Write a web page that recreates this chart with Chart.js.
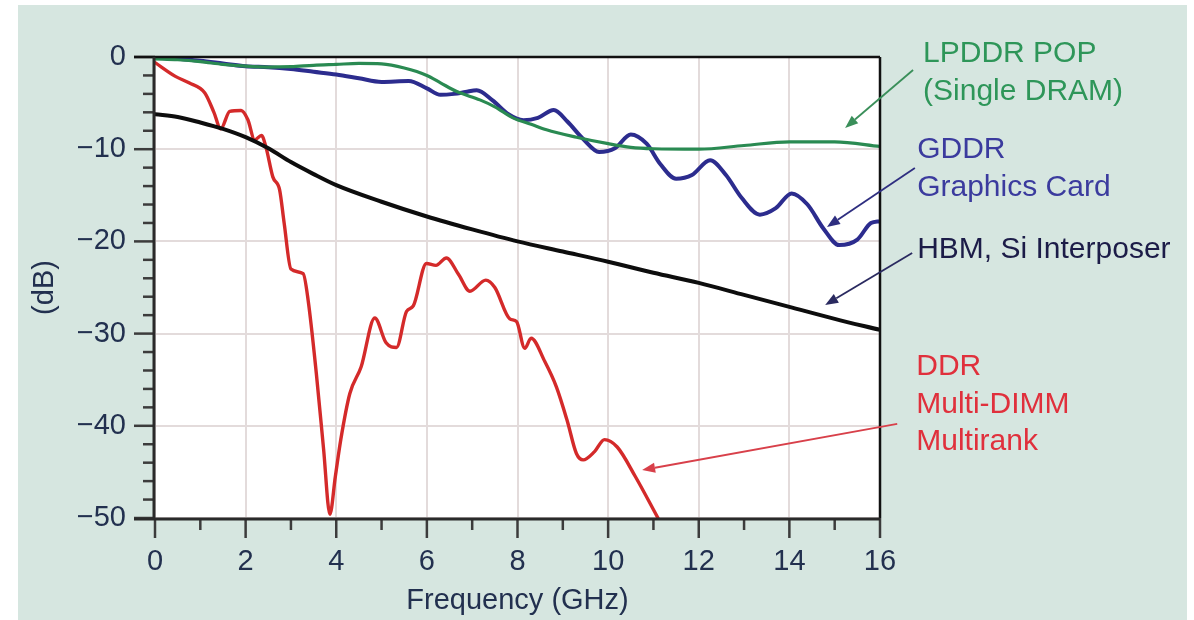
<!DOCTYPE html>
<html>
<head>
<meta charset="utf-8">
<script src="https://cdn.jsdelivr.net/npm/chart.js@4.4.1/dist/chart.umd.min.js"></script>
<style>
html,body{margin:0;padding:0;background:#fff;}
canvas{display:block;}
</style>
</head>
<body>
<canvas id="c" width="1194" height="620"></canvas>
<script>
// ---- data (frequency in GHz, insertion loss in dB) ----
const xTicks = [0, 2, 4, 6, 8, 10, 12, 14, 16];
const yTicks = [0, -10, -20, -30, -40, -50];

const lpddrFreq = [0, 0.5, 1, 1.5, 2, 2.5, 3, 3.5, 4, 4.5, 5, 5.5, 6, 6.3, 6.66, 7.17, 7.5, 7.9, 8.3, 8.64, 9.3, 10, 10.5, 11, 12, 13, 14, 15, 16];
const lpddrDb   = [-0.2, -0.3, -0.5, -0.8, -1.0, -1.1, -1.05, -0.9, -0.8, -0.7, -0.75, -1.2, -2.0, -2.8, -3.75, -4.65, -5.4, -6.6, -7.3, -7.9, -8.7, -9.4, -9.8, -9.95, -10.0, -9.6, -9.2, -9.2, -9.7];

const gddrFreq = [0, 0.5, 1, 1.5, 2, 2.5, 3, 3.5, 4, 4.5, 5, 5.6, 6, 6.3, 6.6, 6.85, 7.1, 7.45, 7.8, 8.13, 8.45, 8.8, 9.1, 9.45, 9.8, 10.15, 10.5, 10.85, 11.15, 11.5, 11.85, 12.25, 12.6, 12.95, 13.35, 13.7, 14.05, 14.4, 14.75, 15.1, 15.5, 15.8, 16];
const gddrDb   = [0, -0.2, -0.4, -0.7, -1.0, -1.1, -1.3, -1.6, -1.9, -2.3, -2.7, -2.6, -3.4, -4.1, -4.0, -3.8, -3.6, -4.7, -6.2, -6.85, -6.6, -5.75, -7.0, -8.9, -10.3, -9.9, -8.4, -9.4, -11.6, -13.2, -12.8, -11.2, -12.8, -15.3, -17.1, -16.4, -14.8, -16.0, -18.6, -20.4, -19.8, -18.0, -17.8];

const hbmFreq = [0, 0.5, 1, 1.5, 2, 2.5, 3, 3.5, 4, 5, 6, 7, 8, 9, 10, 11, 12, 13, 14, 15, 16];
const hbmDb   = [-6.2, -6.5, -7.1, -7.8, -8.7, -9.9, -11.4, -12.7, -13.9, -15.7, -17.3, -18.7, -20.0, -21.1, -22.2, -23.4, -24.5, -25.8, -27.1, -28.4, -29.6];

const ddrFreq = [0, 0.45, 0.75, 1.1, 1.3, 1.45, 1.65, 1.9, 2.05, 2.2, 2.35, 2.45, 2.6, 2.75, 2.85, 3.0, 3.27, 3.38, 3.56, 3.72, 3.86, 3.98, 4.1, 4.3, 4.55, 4.85, 5.1, 5.33, 5.55, 5.7, 5.99, 6.2, 6.43, 6.7, 6.95, 7.3, 7.5, 7.83, 7.98, 8.16, 8.3, 8.6, 8.86, 9.1, 9.3, 9.45, 9.7, 9.92, 10.2, 10.6, 11.1];
const ddrDb   = [-0.6, -2.1, -2.8, -3.9, -6.0, -7.8, -5.9, -5.8, -6.8, -9.0, -8.5, -9.8, -13.0, -14.4, -18.0, -23.0, -23.5, -26.4, -34.3, -42.5, -49.6, -45.5, -41.5, -36.5, -33.6, -28.3, -31.0, -31.5, -27.6, -27.0, -22.4, -22.6, -21.8, -23.6, -25.4, -24.2, -25.0, -28.4, -28.7, -31.6, -30.5, -33.0, -35.8, -39.5, -43.0, -43.7, -42.8, -41.5, -42.3, -45.5, -50];

const seriesNames = ['LPDDR POP', 'GDDR', 'HBM', 'DDR'];
const xTitle = 'Frequency (GHz)';
const yTitle = '(dB)';

// annotation callouts (in data units)
const callouts = [
  {lines: ['LPDDR POP', '(Single DRAM)'], color: '#2e9659', arrow: '#3a8f5a', at: [16.95, 0.33], tail: [16.73, -1.41], tip: [15.23, -7.7]},
  {lines: ['GDDR', 'Graphics Card'], color: '#3b3b9e', arrow: '#2e2e80', at: [16.82, -10.09], tail: [16.77, -12.04], tip: [14.83, -18.44]},
  {lines: ['HBM, Si Interposer'], color: '#1c1c48', arrow: '#2a2a60', at: [16.82, -20.93], tail: [16.71, -21.26], tip: [14.79, -26.9]},
  {lines: ['DDR', 'Multi-DIMM', 'Multirank'], color: '#e0303c', arrow: '#d8404a', at: [16.80, -33.62], tail: [16.38, -39.8], tip: [10.75, -44.8]}
];

const pts = (xs, ys) => xs.map((x, i) => ({x: x, y: ys[i]}));
const FONT = "'Liberation Sans', Arial, Helvetica, sans-serif";
const minus = v => v < 0 ? '\u2212' + Math.abs(v) : String(v);

const panelPlugin = {
  id: 'panel',
  beforeDraw(chart) {
    const {ctx, chartArea: a} = chart;
    ctx.save();
    ctx.fillStyle = '#ffffff';
    ctx.fillRect(0, 0, chart.width, chart.height);
    ctx.fillStyle = '#d6e6e0';
    ctx.fillRect(18, 5, 1169, 615);
    ctx.fillStyle = '#ffffff';
    ctx.fillRect(a.left, a.top, a.right - a.left, a.bottom - a.top);
    ctx.restore();
  }
};

const axesPlugin = {
  id: 'axesDecor',
  afterDatasetsDraw(chart) {
    const {ctx, chartArea: a, scales} = chart;
    const xs = scales.x, ys = scales.y;
    ctx.save();
    ctx.lineCap = 'butt';
    ctx.strokeStyle = '#3c3c3c';
    ctx.lineWidth = 2.5;
    const yt = ys.ticks.map(t => t.value).sort((p, q) => p - q);
    yt.forEach((v, i) => {
      const py = ys.getPixelForValue(v);
      ctx.beginPath(); ctx.moveTo(a.left - 21, py); ctx.lineTo(a.left, py); ctx.stroke();
      if (i < yt.length - 1) {
        const step = (yt[i + 1] - v) / 5;
        for (let k = 1; k < 5; k++) {
          const my = ys.getPixelForValue(v + k * step);
          ctx.beginPath(); ctx.moveTo(a.left - 12, my); ctx.lineTo(a.left, my); ctx.stroke();
        }
      }
    });
    const xt = xs.ticks.map(t => t.value).sort((p, q) => p - q);
    xt.forEach((v, i) => {
      const px = xs.getPixelForValue(v);
      ctx.beginPath(); ctx.moveTo(px, a.bottom); ctx.lineTo(px, a.bottom + 20); ctx.stroke();
      if (i < xt.length - 1) {
        const mx = xs.getPixelForValue((v + xt[i + 1]) / 2);
        ctx.beginPath(); ctx.moveTo(mx, a.bottom); ctx.lineTo(mx, a.bottom + 12); ctx.stroke();
      }
    });
    ctx.strokeStyle = '#111';
    ctx.lineWidth = 2.5;
    ctx.beginPath(); ctx.moveTo(a.left - 21, a.top); ctx.lineTo(a.right, a.top); ctx.stroke();
    ctx.beginPath(); ctx.moveTo(a.right, a.top); ctx.lineTo(a.right, a.bottom); ctx.stroke();
    ctx.strokeStyle = '#2a2a2a';
    ctx.lineWidth = 3;
    ctx.beginPath(); ctx.moveTo(a.left - 1, a.top); ctx.lineTo(a.left - 1, a.bottom + 1); ctx.stroke();
    ctx.beginPath(); ctx.moveTo(a.left - 21, a.bottom + 1); ctx.lineTo(a.right, a.bottom + 1); ctx.stroke();
    ctx.restore();
  },
  afterDraw(chart) {
    const {ctx, scales} = chart;
    const xs = scales.x, ys = scales.y;
    ctx.save();
    callouts.forEach(c => {
      const x1 = xs.getPixelForValue(c.tail[0]), y1 = ys.getPixelForValue(c.tail[1]);
      const x2 = xs.getPixelForValue(c.tip[0]), y2 = ys.getPixelForValue(c.tip[1]);
      const ang = Math.atan2(y2 - y1, x2 - x1);
      const hl = 13, hw = 5;
      const bx = x2 - hl * Math.cos(ang), by = y2 - hl * Math.sin(ang);
      ctx.strokeStyle = c.arrow; ctx.fillStyle = c.arrow; ctx.lineWidth = 1.8;
      ctx.beginPath(); ctx.moveTo(x1, y1); ctx.lineTo(bx, by); ctx.stroke();
      ctx.beginPath();
      ctx.moveTo(x2, y2);
      ctx.lineTo(bx + hw * Math.sin(ang), by - hw * Math.cos(ang));
      ctx.lineTo(bx - hw * Math.sin(ang), by + hw * Math.cos(ang));
      ctx.closePath(); ctx.fill();
      const tx = xs.getPixelForValue(c.at[0]), ty = ys.getPixelForValue(c.at[1]);
      ctx.fillStyle = c.color;
      ctx.font = '30px ' + FONT;
      ctx.textAlign = 'left';
      ctx.textBaseline = 'middle';
      c.lines.forEach((ln, i) => ctx.fillText(ln, tx, ty + i * 37.5));
    });
    ctx.restore();
  }
};

const tickFont = {family: FONT, size: 29};
const tickColor = '#22304f';

new Chart(document.getElementById('c'), {
  type: 'line',
  data: {
    datasets: [
      {label: seriesNames[0], data: pts(lpddrFreq, lpddrDb), borderColor: '#2a8a52', borderWidth: 3.2},
      {label: seriesNames[1], data: pts(gddrFreq, gddrDb), borderColor: '#2c2c8e', borderWidth: 4},
      {label: seriesNames[2], data: pts(hbmFreq, hbmDb), borderColor: '#0d0d0d', borderWidth: 4},
      {label: seriesNames[3], data: pts(ddrFreq, ddrDb), borderColor: '#d42a2a', borderWidth: 3.4}
    ]
  },
  options: {
    responsive: false,
    animation: false,
    devicePixelRatio: 1,
    layout: {padding: {left: 0, top: 57, right: 314, bottom: 0}},
    elements: {
      point: {radius: 0, hoverRadius: 0},
      line: {cubicInterpolationMode: 'monotone', fill: false, borderCapStyle: 'round', borderJoinStyle: 'round'}
    },
    plugins: {legend: {display: false}, tooltip: {enabled: false}},
    scales: {
      x: {
        type: 'linear', min: xTicks[0], max: xTicks[xTicks.length - 1],
        afterBuildTicks: s => { s.ticks = xTicks.map(v => ({value: v})); },
        afterFit: s => { s.height = 102; },
        ticks: {font: tickFont, color: tickColor, padding: 27, maxRotation: 0, autoSkip: false},
        grid: {color: '#e3dbdb', lineWidth: 2, drawTicks: false},
        border: {display: false},
        title: {display: true, text: xTitle, font: tickFont, color: tickColor, padding: {top: 0, bottom: 2}}
      },
      y: {
        type: 'linear', min: yTicks[yTicks.length - 1], max: yTicks[0],
        afterBuildTicks: s => { s.ticks = yTicks.slice().reverse().map(v => ({value: v})); },
        afterFit: s => { s.width = 155; },
        ticks: {font: tickFont, color: tickColor, padding: 29, callback: v => minus(v)},
        grid: {color: '#e3dbdb', lineWidth: 2, drawTicks: false},
        border: {display: false},
        title: {display: true, text: yTitle, font: tickFont, color: tickColor, padding: {top: 28, bottom: 0}}
      }
    }
  },
  plugins: [panelPlugin, axesPlugin]
});
</script>
</body>
</html>
